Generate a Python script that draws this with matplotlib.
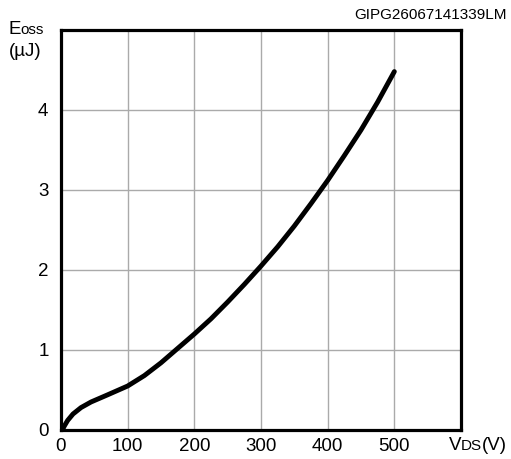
import matplotlib
matplotlib.use("Agg")
import matplotlib.pyplot as plt
import numpy as np
from matplotlib.offsetbox import TextArea, HPacker, AnnotationBbox

plt.rcParams['font.family'] = ['Liberation Sans', 'DejaVu Sans']

# curve
vds = [2, 5, 10, 18, 30, 45, 70, 100, 125, 150, 175, 200, 225, 250, 275, 300,
       325, 350, 375, 400, 425, 450, 475, 500]
eoss = [0.0, 0.05, 0.12, 0.2, 0.28, 0.35, 0.44, 0.55, 0.68, 0.84, 1.02, 1.2, 1.39, 1.6, 1.82, 2.05,
        2.29, 2.55, 2.83, 3.12, 3.43, 3.75, 4.1, 4.48]

x_ticks = [0, 100, 200, 300, 400, 500]
y_ticks = [0, 1, 2, 3, 4]
code = "GIPG26067141339LM"


def draw():
    fig = plt.figure(figsize=(5.11, 4.59), dpi=100)
    ax = fig.add_axes([61 / 511, 1 - 430 / 459, 400 / 511, 400 / 459])

    ax.plot(vds, eoss, color='black', lw=3.5, solid_capstyle='round',
            solid_joinstyle='round', zorder=3)

    ax.set_xlim(0, 600)
    ax.set_ylim(0, 5)
    ax.set_xticks(x_ticks + [600])
    ax.set_xticklabels([str(t) for t in x_ticks] + [''])
    ax.set_yticks(y_ticks + [5])
    ax.set_yticklabels([str(t) for t in y_ticks] + [''])
    ax.tick_params(axis='both', length=0, labelsize=13.5)
    ax.tick_params(axis='x', pad=6)
    ax.tick_params(axis='y', pad=9)
    ax.grid(True, color='#aaaaaa', lw=1.0)
    for s in ax.spines.values():
        s.set_linewidth(2.3)
        s.set_zorder(4)

    # x label: V DS (V)
    xl = HPacker(children=[TextArea("V", textprops=dict(size=13.5)),
                           TextArea("DS", textprops=dict(size=11)),
                           TextArea("(V)", textprops=dict(size=13.5))],
                 align="baseline", pad=0, sep=0)
    fig.add_artist(AnnotationBbox(xl, (478 / 511, 1 - 445 / 459), xycoords='figure fraction',
                                  frameon=False, box_alignment=(0.5, 0.5)))

    # y label: E oss (uJ)
    yl = HPacker(children=[TextArea("E", textprops=dict(size=13.5)),
                           TextArea("oss", textprops=dict(size=11))],
                 align="baseline", pad=0, sep=0)
    fig.add_artist(AnnotationBbox(yl, (26 / 511, 1 - 30 / 459), xycoords='figure fraction',
                                  frameon=False, box_alignment=(0.5, 0.5)))
    fig.text(25 / 511, 1 - 51 / 459, "(µJ)", fontsize=13.5, ha='center', va='center')

    fig.text(507 / 511, 1 - 15 / 459, code, fontsize=11, ha='right', va='center')

    fig.savefig("out.png", dpi=100)


draw()
